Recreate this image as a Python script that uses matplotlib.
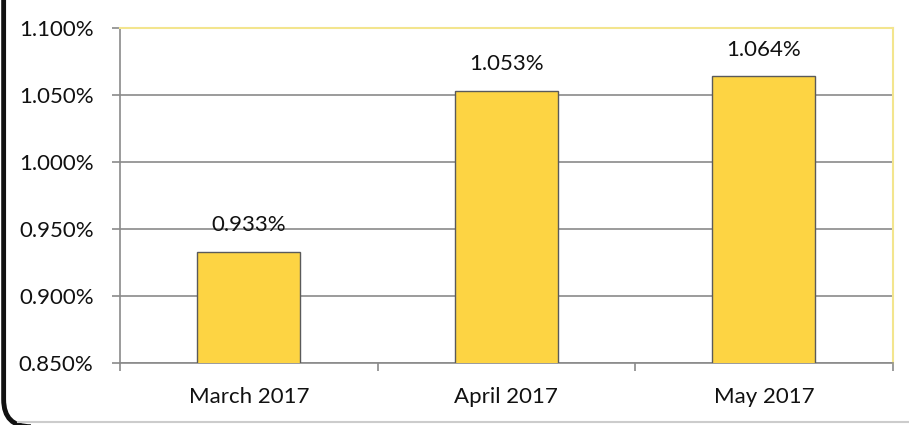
import matplotlib.pyplot as plt
from matplotlib.patches import FancyBboxPatch
from matplotlib.lines import Line2D
from matplotlib.ticker import FuncFormatter

months = ['March 2017', 'April 2017', 'May 2017']
rates = [0.933, 1.053, 1.064]
bar_labels = ['0.933%', '1.053%', '1.064%']
y_ticks = [0.850, 0.900, 0.950, 1.000, 1.050, 1.100]

plt.rcParams['font.family'] = ['Lato', 'DejaVu Sans']

fig = plt.figure(figsize=(9.09, 4.25), dpi=100)
ax = fig.add_axes([0.132, 0.146, 0.850, 0.788])

x = list(range(len(months)))
bars = ax.bar(x, rates, width=0.40, color='#FDD443', edgecolor='#5a5a5a', linewidth=1.0, zorder=3)

for b, lab in zip(bars, bar_labels):
    ax.annotate(lab, (b.get_x() + b.get_width() / 2, b.get_height()),
                xytext=(0, 12), textcoords='offset points',
                ha='center', va='bottom', fontsize=16, color='#111111', zorder=4)

ax.set_xlim(-0.5, 2.5)
ax.set_ylim(0.85, 1.10)
ax.set_yticks(y_ticks)
ax.yaxis.set_major_formatter(FuncFormatter(lambda v, p: f'{v:.3f}%'))
ax.grid(axis='y', color='#8a8a8a', linewidth=1.2, zorder=0)

ax.set_xticks(x)
ax.set_xticklabels(months)
ax.set_xticks([-0.5, 0.5, 1.5, 2.5], minor=True)
ax.tick_params(axis='x', which='major', length=0, pad=17, labelsize=16, labelcolor='#111111')
ax.tick_params(axis='x', which='minor', length=6, color='#8a8a8a', width=1.2)
ax.tick_params(axis='y', length=6, color='#8a8a8a', width=1.2, pad=13, labelsize=16, labelcolor='#111111')

ax.spines['left'].set_color('#8a8a8a')
ax.spines['left'].set_linewidth(1.2)
ax.spines['bottom'].set_color('#8a8a8a')
ax.spines['bottom'].set_linewidth(1.2)
ax.spines['top'].set_color('#F3E58E')
ax.spines['right'].set_color('#F3E58E')
ax.spines['top'].set_linewidth(1.5)
ax.spines['right'].set_linewidth(1.5)

# dark rounded frame on the left edge, faint line along the bottom
fig.lines.append(Line2D([0.02, 1.0], [0.006, 0.006], transform=fig.transFigure,
                        color='#cccccc', linewidth=1.5))
frame = FancyBboxPatch((0.004, -0.004), 1.2, 1.2, boxstyle='round,pad=0,rounding_size=0.03',
                       transform=fig.transFigure, fill=False, edgecolor='#111111',
                       linewidth=3.5, mutation_aspect=909 / 425)
fig.patches.append(frame)

fig.savefig('out.png', dpi=100)
